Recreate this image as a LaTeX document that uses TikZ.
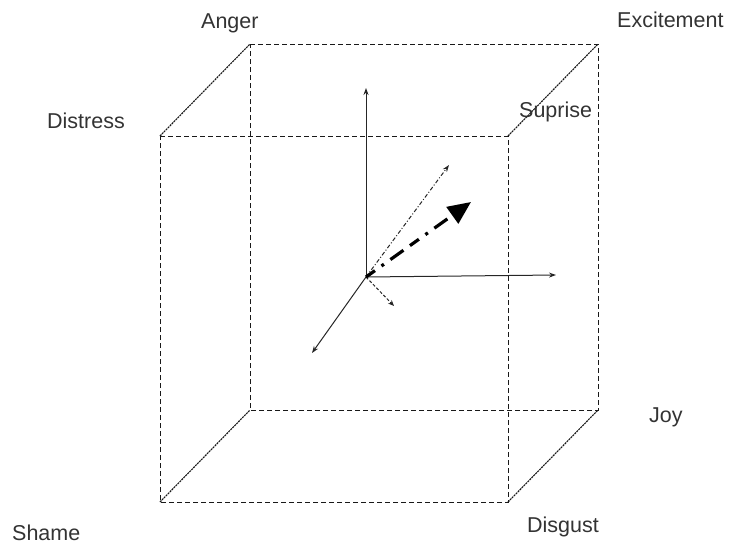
\documentclass[tikz,border=0pt]{standalone}
\usepackage{fontspec}
\setmainfont{Liberation Sans}
\usetikzlibrary{arrows.meta}
\begin{document}
\begin{tikzpicture}[x=1pt,y=-1pt,
  edge/.style={draw=black!90, line width=1pt, dash pattern=on 5pt off 3pt},
  diag/.style={draw=black!90, line width=1.1pt, dash pattern=on 2pt off 0.8pt},
  axis/.style={draw=black!85, line width=1pt, -{Stealth[length=7pt,width=5pt]}},
  lbl/.style={font=\fontsize{21.5}{24}\selectfont, text=black!80, inner sep=0pt, anchor=base west}]
\useasboundingbox (0,0) rectangle (729,544);
% front square
\coordinate (f1) at (160,136);
\coordinate (f2) at (508,136);
\coordinate (f3) at (508,502);
\coordinate (f4) at (160,502);
% back square
\coordinate (b1) at (250,44);
\coordinate (b2) at (598,44);
\coordinate (b3) at (598,410);
\coordinate (b4) at (250,410);
\draw[edge] (f1) -- (f2) -- (f3) -- (f4) -- cycle;
\draw[edge] (b1) -- (b2) -- (b3) -- (b4) -- cycle;
\draw[diag] (f1) -- (b1);
\draw[diag] (f2) -- (b2);
\draw[diag] (f3) -- (b3);
\draw[diag] (f4) -- (b4);
% axes
\coordinate (o) at (366,277);
\coordinate (up) at (366,88);
\coordinate (rt) at (556,275);
\coordinate (dl) at (312,353);
\coordinate (dt) at (449,165);
\coordinate (th) at (471,202);
\coordinate (sm) at (394,306);
\draw[axis] (o) -- (up);
\draw[axis] (o) -- (rt);
\draw[axis] (o) -- (dl);
\draw[draw=black!85, line width=1pt, dash pattern=on 4pt off 2pt on 1pt off 2pt, -{Stealth[length=7pt,width=5pt]}] (o) -- (dt);
\draw[draw=black!85, line width=1pt, dash pattern=on 3pt off 2pt, -{Stealth[length=6pt,width=5pt]}] (o) -- (sm);
\draw[black, line width=3.2pt, dash pattern=on 11pt off 8pt on 3pt off 8pt on 16pt off 8pt, -{Triangle[length=23pt,width=20pt]}] (o) -- (th);
% labels
\node[lbl] (anger) at (201,28) {Anger};
\node[lbl] (exc) at (617,27) {Excitement};
\node[lbl] (dis) at (47,128) {Distress};
\node[lbl] (sup) at (519,117) {Suprise};
\node[lbl] (joy) at (649,422) {Joy};
\node[lbl] (sham) at (12,540) {Shame};
\node[lbl] (disg) at (527,532) {Disgust};
\end{tikzpicture}
\end{document}
